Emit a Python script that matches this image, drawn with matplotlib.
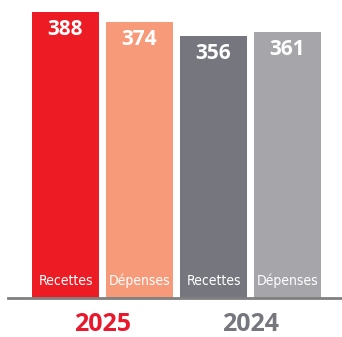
import matplotlib.pyplot as plt

# values
values = [388, 374, 356, 361]
bar_labels = ['Recettes', 'Dépenses', 'Recettes', 'Dépenses']
years = ['2025', '2024']
bar_colors = ['#ED1C24', '#F69A7A', '#76777E', '#A6A5AA']
year_colors = ['#E8192C', '#76777E']

fig = plt.figure(figsize=(3.42, 3.37), dpi=100)
ax = fig.add_axes([0, 39 / 337, 1, 298 / 337])

x = list(range(len(values)))
ax.bar(x, values, width=67 / 74, color=bar_colors, zorder=2)
ax.set_xlim(-65.5 / 74, (342 - 65.5) / 74)
ax.set_ylim(0, 404.3)
ax.axhline(0, xmin=8 / 342, xmax=1, color='#808080', lw=2, zorder=3, clip_on=False)

for xi, v in zip(x, values):
    ax.annotate(str(v), (xi, v), xytext=(0, -5), textcoords='offset points',
                ha='center', va='top', color='white', fontsize=15,
                fontweight='bold', family=['Open Sans', 'DejaVu Sans'])

for xi, lab in zip(x, bar_labels):
    ax.text(xi, 23, lab, ha='center', va='center', color='white', fontsize=10,
            family='DejaVu Sans', fontstretch='condensed')

for i, (yr, c) in enumerate(zip(years, year_colors)):
    ax.text(2 * i + 0.5, -35.5, yr, ha='center', va='center', color=c,
            fontsize=18, fontweight='bold', family=['Open Sans', 'DejaVu Sans'],
            clip_on=False)

ax.axis('off')
fig.savefig('out.png', dpi=100)
